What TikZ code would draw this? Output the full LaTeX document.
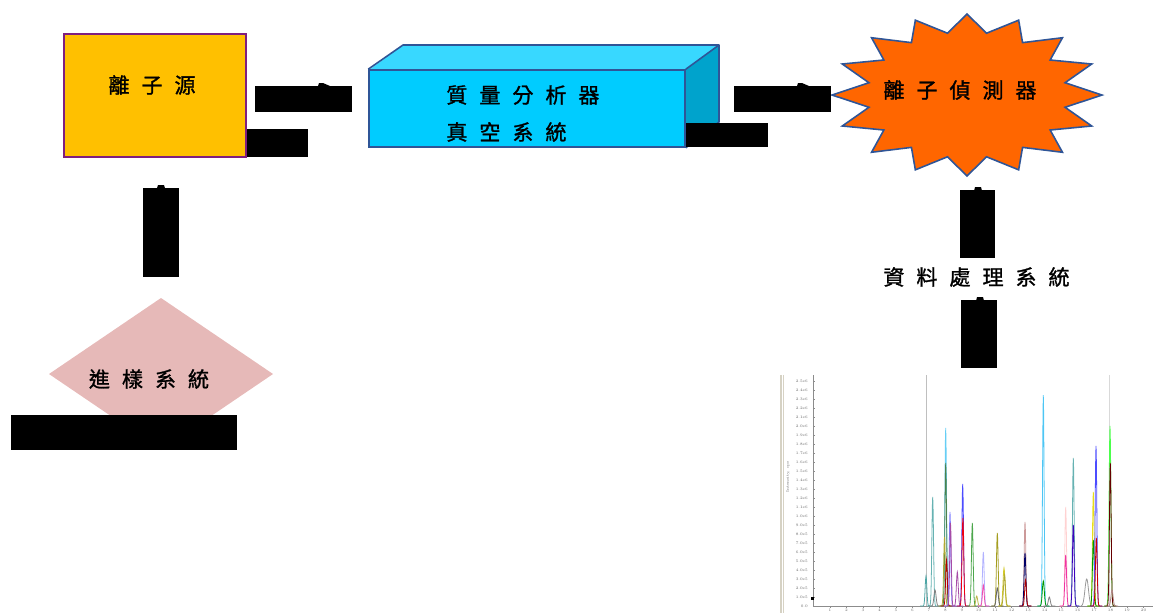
\documentclass[tikz,border=0pt]{standalone}
\usepackage{fontspec}
\newfontfamily\cjk[FakeBold=1.2]{Noto Sans CJK TC}
\definecolor{srcfill}{HTML}{FFC000}
\definecolor{srcline}{HTML}{7F1F7F}
\definecolor{boxline}{HTML}{2F5597}
\definecolor{boxfront}{HTML}{00CCFF}
\definecolor{boxtop}{HTML}{38D8FF}
\definecolor{boxside}{HTML}{00A3CC}
\definecolor{starfill}{HTML}{FF6600}
\definecolor{diafill}{HTML}{E6B9B8}
\definecolor{winbar}{HTML}{D6D2C4}
\newcommand\cgap{\hspace{6.8pt}}
\newcommand\pk[4]{\draw[#4, line width=0.45pt] plot[domain=-6:6, samples=41] ({#1+\x},{606-(606-#2)*exp(-(\x/#3)^2)});}
\begin{document}
\begin{tikzpicture}[x=0.02cm,y=-0.02cm,
  blk/.style={rectangle, fill=black, draw=none, inner sep=0pt, outer sep=0pt},
  lbl/.style={font=\cjk\fontsize{12}{14}\selectfont, inner sep=0pt, text=black},
  tiny/.style={font=\fontsize{2.2}{2.6}\selectfont, inner sep=0pt, text=black!60}]
\useasboundingbox (0,0) rectangle (1153,613);

% ion source
\node[rectangle, fill=srcfill, draw=srcline, line width=1.1pt, inner sep=0pt,
  minimum width=182*0.02cm, minimum height=123*0.02cm] (src) at (155,95.5) {};
\node[lbl] (srclbl) at (152,85) {離\cgap 子\cgap 源};

% mass analyzer box
\fill[boxtop] (369,70) -- (403,45) -- (719,45) -- (685,70) -- cycle;
\fill[boxside] (685,70) -- (719,45) -- (719,122) -- (685,147) -- cycle;
\node[rectangle, fill=boxfront, draw=boxline, line width=0.9pt, inner sep=0pt,
  minimum width=316*0.02cm, minimum height=77*0.02cm] (ana) at (527,108.5) {};
\draw[boxline, line width=0.9pt, line join=round] (ana.north west) -- (403,45) -- (719,45) -- (ana.north east);
\draw[boxline, line width=0.9pt, line join=round] (719,45) -- (719,122) -- (ana.south east);
\node[lbl, anchor=west] (analbl1) at (446,95) {質\cgap 量\cgap 分\cgap 析\cgap 器};
\node[lbl, anchor=west] (analbl2) at (446,132) {真\cgap 空\cgap 系\cgap 統};

% detector star
\draw[fill=starfill, draw=boxline, line width=0.9pt, line join=miter]
  plot[domain=0:31, samples=32] ({967+(mod(\x,2)==0 ? 135 : 100)*cos(90+11.25*\x)},{95-(mod(\x,2)==0 ? 81 : 63)*sin(90+11.25*\x)}) -- cycle;
\node[lbl] (det) at (960,90) {離\cgap 子\cgap 偵\cgap 測\cgap 器};

% injection diamond
\fill[diafill] (161,298) -- (273,374) -- (161,450) -- (49,374) -- cycle;
\node[lbl] (inj) at (149,379) {進\cgap 樣\cgap 系\cgap 統};

% data system label
\node[lbl] (dat) at (976.5,277) {資\cgap 料\cgap 處\cgap 理\cgap 系\cgap 統};

% black blocks
\node[blk, minimum width=97*0.02cm, minimum height=26*0.02cm] (b1) at (303.5,99) {};
\fill (318,86) -- (319,83) -- (323,83) -- (330,86) -- cycle;
\node[blk, minimum width=61*0.02cm, minimum height=28*0.02cm] (b2) at (277,143) {};
\node[blk, minimum width=97*0.02cm, minimum height=26*0.02cm] (b3) at (782.5,99) {};
\fill (797,86) -- (798,83) -- (802,83) -- (809,86) -- cycle;
\node[blk, minimum width=82*0.02cm, minimum height=24*0.02cm] (b4) at (727,135) {};
\node[blk, minimum width=36*0.02cm, minimum height=89*0.02cm] (b5) at (161,232) {};
\fill (157,188) -- (158,185) -- (164,185) -- (165,188) -- cycle;
\node[blk, minimum width=226*0.02cm, minimum height=35*0.02cm] (b6) at (124,432.5) {};
\node[blk, minimum width=35*0.02cm, minimum height=68*0.02cm] (b7) at (977.5,224) {};
\fill (974,191) -- (975,187) -- (981,187) -- (982,191) -- cycle;
\node[blk, minimum width=36*0.02cm, minimum height=68*0.02cm] (b8) at (979,334) {};
\fill (976,301) -- (977,297) -- (983,297) -- (984,301) -- cycle;

% chromatogram
\fill[winbar] (780,375) rectangle (784,613);
\draw[white, line width=0.3pt] (782,375) -- (782,613);
\coordinate (yax) at (813,375);
\coordinate (org) at (813,606);
\coordinate (xend) at (1153,606);
\draw[black!45, line width=0.4pt] (yax) -- (org) -- (xend);
\foreach \k/\t in {0/0.0,1/1.0e5,2/2.0e5,3/3.0e5,4/4.0e5,5/5.0e5,6/6.0e5,7/7.0e5,8/8.0e5,9/9.0e5,10/1.0e6,11/1.1e6,12/1.2e6,13/1.3e6,14/1.4e6,15/1.5e6,16/1.6e6,17/1.7e6,18/1.8e6,19/1.9e6,20/2.0e6,21/2.1e6,22/2.2e6,23/2.3e6,24/2.4e6,25/2.5e6}{
  \draw[black!45, line width=0.3pt] (813,606-9*\k) -- (815,606-9*\k);
  \node[tiny, anchor=east] at (808,606-9*\k) {\t};
}
\foreach \t in {1,...,20}{
  \draw[black!45, line width=0.3pt] (813.5+16.5*\t,606) -- (813.5+16.5*\t,608);
  \node[tiny] at (813.5+16.5*\t,610) {\t};
}
\node[tiny, rotate=90] at (788,477) {Intensity, cps};
\fill (810.5,596.5) rectangle (813.5,599.5);

\draw[black!25, line width=0.5pt] (926.5,375) -- (926.5,606);
\draw[black!15, line width=0.8pt] (1109.3,375) -- (1109.3,606);
\pk{926}{576}{1.2}{teal!70}
\pk{932.7}{497}{1.2}{teal!60}
\pk{935}{590}{1.5}{gray}
\pk{945.7}{428}{1.2}{cyan!60}
\pk{945.7}{463}{1.2}{green!30!black!70}
\pk{944.5}{537}{1.2}{olive!70}
\pk{946.5}{560}{1.2}{red!70!black}
\pk{950}{512}{1.1}{blue!50}
\pk{950.5}{523}{1.1}{violet!70}
\pk{957.3}{572}{1.3}{violet!70}
\pk{962.7}{484}{1.2}{blue!70}
\pk{962.9}{518}{1.2}{red!70!purple}
\pk{972.3}{523}{1.2}{green!50!black!70}
\pk{976.7}{596}{1.3}{olive!60}
\pk{983.3}{552}{1.2}{blue!30}
\pk{983.3}{585}{1.2}{magenta!70}
\pk{997.3}{533}{1.2}{olive!80}
\pk{997.3}{588}{1.4}{black!60}
\pk{1004}{568}{1.4}{yellow!80!black}
\pk{1004.5}{575}{1.4}{olive!70}
\pk{1025}{522}{1.2}{pink!80!black}
\pk{1025}{553}{1.2}{blue!40!black}
\pk{1025.5}{580}{1.2}{red!70!black}
\pk{1043.3}{395}{1.1}{cyan!70}
\pk{1043.3}{581}{1.4}{green!60!black}
\pk{1049.3}{597}{1.4}{gray}
\pk{1065.7}{507}{1.2}{pink!70}
\pk{1065.7}{555}{1.2}{magenta!80}
\pk{1073.3}{458}{1.2}{teal!60}
\pk{1073.3}{525}{1.2}{blue!50!violet}
\pk{1086.7}{579}{2.5}{gray!80}
\pk{1093.3}{492}{1.2}{yellow!90!black}
\pk{1093.3}{540}{1.2}{green!60!black}
\pk{1096}{446}{1.2}{blue!70}
\pk{1096.3}{538}{1.2}{red!80!black}
\pk{1110}{426}{1.3}{green!70}
\pk{1110.3}{463}{1.2}{red!40!black}
\pk{1112}{590}{1.5}{pink!70!black}
\end{tikzpicture}
\end{document}
